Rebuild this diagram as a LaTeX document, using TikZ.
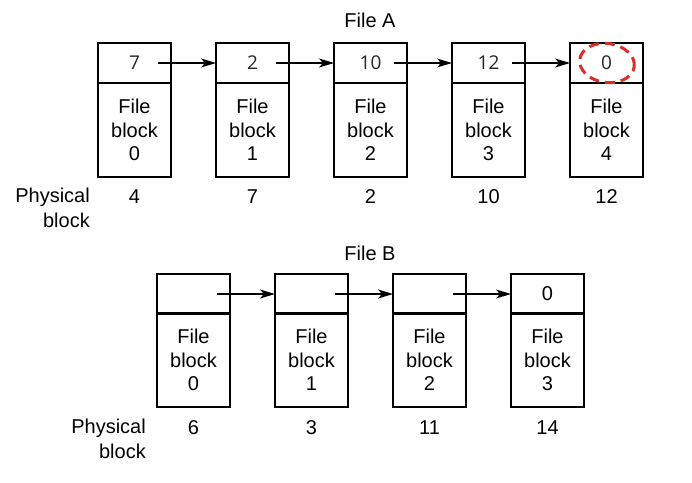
\documentclass[tikz,border=0pt]{standalone}
\usepackage{fontspec}
\setmainfont{Liberation Sans}
\newfontfamily\numfont{Open Sans}
\usetikzlibrary{arrows.meta,shapes.geometric}
\definecolor{hlred}{RGB}{220,45,40}
\tikzset{
  cell/.style={draw, line width=1.7pt, minimum width=73pt, inner sep=0pt, outer sep=0pt},
  ptr/.style={cell, minimum height=40pt, font=\numfont\fontsize{19}{22}\selectfont, text=black!85},
  ptrb/.style={cell, minimum height=40pt, font=\fontsize{20}{23.5}\selectfont},
  body/.style={cell, minimum height=94pt, align=center, font=\fontsize{20}{23.5}\selectfont},
  lbl/.style={font=\fontsize{20}{23.5}\selectfont, inner sep=0pt},
  arr/.style={line width=1.3pt, -{Stealth[length=15pt,width=9pt,inset=4pt]}},
  hlmark/.style={draw=hlred, line width=3pt, dash pattern=on 10pt off 6pt}
}
\begin{document}
\begin{tikzpicture}[x=1pt,y=-1pt]
\useasboundingbox (0,0) rectangle (692,482);
% File A
\node[lbl] (ta) at (370,20) {File A};
\foreach \i/\n/\p in {0/7/4,1/2/7,2/10/2,3/12/10,4/0/12}{
  \node[ptr] (a\i) at (134.5+118*\i,63) {\n};
  \node[body] (ab\i) at (134.5+118*\i,130) {File\\block\\\i};
  \node[lbl] (ap\i) at (134.5+118*\i,197) {\p};
}
\foreach \i/\j in {0/1,1/2,2/3,3/4}{
  \draw[arr] ([xshift=-13pt]a\i.east) -- (a\j.west);
}
\node[hlmark, ellipse, minimum width=55pt, minimum height=39pt, rotate=-8] (hl) at (607,63) {};
\node[lbl, anchor=east] (pa1) at (90,197) {Physical};
\node[lbl, anchor=east] (pa2) at (90,220) {block};
% File B
\node[lbl] (tb) at (370,253) {File B};
\foreach \i/\n/\p in {0//6,1//3,2//11,3/0/14}{
  \node[ptrb] (b\i) at (193.5+118*\i,294) {\n};
  \node[body] (bb\i) at (193.5+118*\i,360) {File\\block\\\i};
  \node[lbl] (bp\i) at (193.5+118*\i,428) {\p};
}
\foreach \i/\j in {0/1,1/2,2/3}{
  \draw[arr] ([xshift=-13pt]b\i.east) -- (b\j.west);
}
\node[lbl, anchor=east] (pb1) at (146,428) {Physical};
\node[lbl, anchor=east] (pb2) at (146,451) {block};
\end{tikzpicture}
\end{document}
